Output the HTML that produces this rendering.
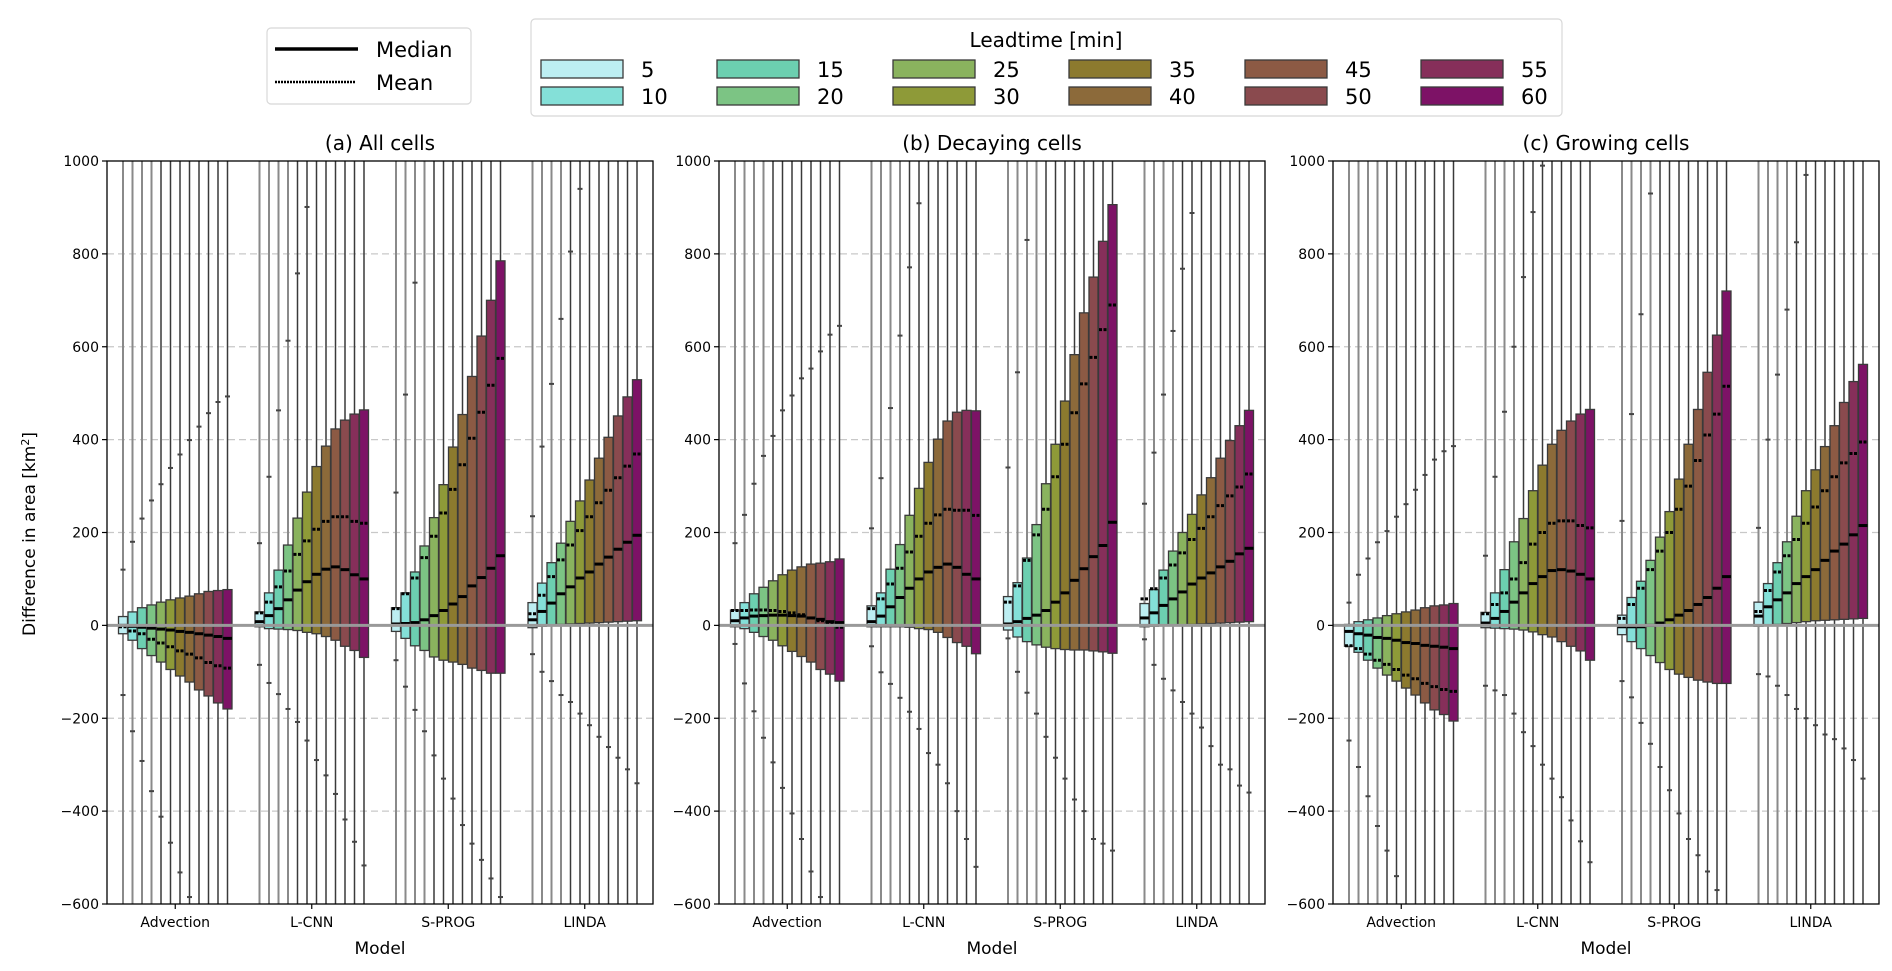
<!DOCTYPE html>
<html><head><meta charset="utf-8"><style>
body{margin:0;background:#fff;}
svg{display:block;font-family:"DejaVu Sans","Liberation Sans",sans-serif;}
</style></head><body>
<svg id="chart" width="1892" height="971" viewBox="0 0 1892 971"></svg>
<script>
// ---------- data ----------
const models = ["Advection","L-CNN","S-PROG","LINDA"];
const leadtimes = [5,10,15,20,25,30,35,40,45,50,55,60];
const leadColors = ["#bdeef2","#84e0d8","#6ccfb0","#7cc484","#8ab35e","#8e9a38","#8c7a2e","#8c6a3a","#8c5a44","#8a4a4e","#862f5a","#7d1266"];
const panelTitles = ["(a) All cells","(b) Decaying cells","(c) Growing cells"];
const yTicks = [1000,800,600,400,200,0,-200,-400,-600];

// panel (a) All cells
const a_q3 = [[19,29,38,44,50,55,59,63,68,73,75,77],[29,70,119,173,231,287,342,386,423,442,455,464],[38,70,115,171,232,303,384,454,536,623,700,785],[49,91,135,177,224,268,313,360,405,451,492,529]];
const a_q1 = [[-18,-32,-50,-65,-79,-95,-109,-122,-139,-152,-167,-180],[-3,-7,-8,-9,-11,-15,-18,-24,-32,-45,-54,-69],[-13,-28,-44,-54,-68,-75,-79,-84,-92,-97,-103,-103],[-5,-2,0,2,3,4,5,6,7,8,9,10]];
const a_med = [[0,-2,-4,-6,-8,-10,-13,-15,-18,-21,-24,-28],[8,21,36,55,76,94,110,121,126,120,109,100],[3,4,6,12,21,32,46,62,85,103,123,150],[12,30,48,68,83,102,115,132,147,164,179,194]];
const a_mean = [[-3,-12,-18,-30,-38,-46,-55,-62,-70,-80,-87,-92],[27,50,83,117,153,182,207,224,234,234,224,220],[36,68,102,146,192,242,293,346,403,459,517,575],[25,65,105,141,173,204,234,264,291,318,343,369]];
const a_hi = [[120,180,230,269,304,339,368,399,428,457,481,493],[177,320,463,613,758,901,1100,1100,1100,1100,1100,1100],[286,497,738,1100,1100,1100,1100,1100,1100,1100,1100,1100],[235,385,520,660,805,940,1100,1100,1100,1100,1100,1100]];
const a_lo = [[-150,-228,-292,-357,-412,-468,-532,-585,-640,-700,-760,-820],[-85,-124,-148,-180,-208,-248,-290,-323,-363,-418,-466,-517],[-75,-132,-182,-228,-280,-330,-373,-430,-470,-505,-545,-585],[-62,-100,-120,-150,-165,-190,-215,-240,-262,-285,-310,-340]];

// panel (b) Decaying cells
const b_q3 = [[33,49,68,82,96,109,119,126,132,134,137,143],[42,70,121,174,237,295,351,401,440,459,463,462],[62,92,145,217,305,390,483,583,673,750,827,906],[47,77,119,160,200,239,281,318,360,398,430,463]];
const b_q1 = [[-3,-7,-15,-24,-32,-44,-56,-67,-79,-95,-105,-120],[-3,-3,-3,-3,-4,-7,-9,-15,-26,-37,-45,-61],[-10,-25,-35,-42,-47,-50,-52,-53,-53,-55,-57,-60],[-3,-2,0,0,1,2,3,4,5,6,7,8]];
const b_med = [[10,16,20,21,22,22,21,20,16,13,8,6],[8,20,40,60,80,100,115,125,132,125,110,100],[3,8,15,22,32,50,70,97,122,148,172,222],[16,27,43,57,72,89,102,113,126,138,154,166]];
const b_mean = [[32,32,33,33,32,30,27,23,16,10,3,-4],[36,57,89,123,158,192,220,238,250,248,248,237],[50,85,140,195,250,320,390,458,520,577,637,690],[57,79,102,130,156,185,209,234,258,279,298,326]];
const b_hi = [[177,238,305,365,408,463,495,532,553,590,626,645],[209,317,468,624,771,909,1100,1100,1100,1100,1100,1100],[340,545,830,1100,1100,1100,1100,1100,1100,1100,1100,1100],[262,372,497,634,768,888,1100,1100,1100,1100,1100,1100]];
const b_lo = [[-40,-125,-185,-242,-295,-350,-405,-460,-530,-585,-640,-700],[-45,-101,-126,-156,-186,-223,-275,-300,-340,-400,-460,-520],[-28,-100,-145,-190,-240,-285,-330,-375,-400,-460,-470,-485],[-30,-85,-115,-140,-165,-190,-220,-260,-300,-310,-345,-360]];

// panel (c) Growing cells
const c_q3 = [[2,8,12,16,21,25,29,33,38,42,44,47],[28,70,120,180,230,290,345,390,420,440,455,465],[22,60,95,140,190,245,315,390,465,545,625,720],[50,90,135,180,235,290,335,385,430,480,525,562]];
const c_q1 = [[-45,-58,-75,-92,-107,-120,-135,-150,-167,-182,-192,-206],[-5,-6,-7,-8,-10,-14,-20,-25,-35,-45,-55,-75],[-20,-35,-50,-65,-80,-95,-105,-112,-118,-122,-125,-125],[-2,0,2,4,6,8,10,11,12,13,14,15]];
const c_med = [[-13,-18,-21,-26,-28,-32,-37,-39,-43,-45,-47,-50],[5,15,30,50,70,90,105,118,120,117,110,100],[-3,-3,-3,0,5,12,22,32,45,60,80,105],[20,40,55,70,90,105,120,140,160,175,195,215]];
const c_mean = [[-44,-50,-62,-75,-84,-95,-107,-115,-125,-132,-138,-142],[25,45,70,100,135,175,200,220,225,225,215,210],[15,45,80,120,160,200,250,300,355,410,455,515],[30,75,115,150,185,220,255,290,320,350,370,395]];
const c_hi = [[49,109,144,179,203,234,261,292,324,357,375,386],[150,320,460,600,750,890,990,1100,1100,1100,1100,1100],[225,455,670,930,1100,1100,1100,1100,1100,1100,1100,1100],[210,400,540,680,825,970,1100,1100,1100,1100,1100,1100]];
const c_lo = [[-248,-305,-368,-432,-485,-540,-620,-680,-740,-800,-860,-920],[-130,-140,-150,-190,-230,-260,-300,-330,-370,-420,-465,-510],[-120,-155,-210,-255,-305,-355,-405,-460,-495,-530,-570,-620],[-105,-110,-130,-150,-180,-200,-215,-235,-245,-265,-290,-330]];

const panelQ3=[a_q3,b_q3,c_q3], panelQ1=[a_q1,b_q1,c_q1], panelMed=[a_med,b_med,c_med], panelMean=[a_mean,b_mean,c_mean], panelHi=[a_hi,b_hi,c_hi], panelLo=[a_lo,b_lo,c_lo];

// ---------- layout ----------
const NS="http://www.w3.org/2000/svg";
const svg=document.getElementById('chart');
const panelLeft=[107,719,1333], panelW=546, yTop=161, yBot=904;
const yMin=-600, yMax=1000;
function yS(v){ return yBot-(v-yMin)/(yMax-yMin)*(yBot-yTop); }
function mk(tag,attrs,parent){ const e=document.createElementNS(NS,tag); for(const k in attrs) e.setAttribute(k,attrs[k]); (parent||svg).appendChild(e); return e; }
const step=9.5, bw=9;
function groupCenter(p,g){ return panelLeft[p]+panelW/8+g*panelW/4; }
function xS(p,g,i){ return groupCenter(p,g)+(i-5.5)*step; }

for(let p=0;p<3;p++){
  const L=panelLeft[p], R=L+panelW;
  const pg=mk('g',{});
  
  
  yTicks.forEach(t=>{
    if(t===1000||t===-600||t===0) return;
    const gl=mk('line',{x1:L,x2:R,y1:yS(t),y2:yS(t),stroke:'#c8c8c8','stroke-width':1.2,'stroke-dasharray':'7,4'},pg);
    
    
  });
  for(let g=0;g<4;g++){
    for(let i=0;i<12;i++){
      const x=xS(p,g,i);
      const bg=mk('g',{},pg);
      
      
      const gray=i<4;
      mk('line',{x1:x,x2:x,y1:yTop,y2:yBot,stroke:gray?'#8a8a8a':'#3a3a3a','stroke-width':gray?2:1.5},bg);
      const hi=panelHi[p][g][i], lo=panelLo[p][g][i];
      if(hi<=1000) mk('line',{x1:x-2.5,x2:x+2.5,y1:yS(hi),y2:yS(hi),stroke:'#444','stroke-width':2},bg);
      if(lo>=-600) mk('line',{x1:x-2.5,x2:x+2.5,y1:yS(lo),y2:yS(lo),stroke:'#444','stroke-width':2},bg);
      const q3=panelQ3[p][g][i], q1=panelQ1[p][g][i];
      mk('rect',{x:x-bw/2,y:yS(q3),width:bw,height:Math.max(1,yS(q1)-yS(q3)),fill:leadColors[i],stroke:'#3a3a3a','stroke-width':1.3},bg);
      const m=panelMed[p][g][i];
      mk('line',{x1:x-bw/2,x2:x+bw/2,y1:yS(m),y2:yS(m),stroke:'#000','stroke-width':3},bg);
      const mn=panelMean[p][g][i];
      mk('line',{x1:x-bw/2+0.5,x2:x+bw/2,y1:yS(mn),y2:yS(mn),stroke:'#000','stroke-width':3,'stroke-dasharray':'3,1.5'},bg);
    }
  }
  const zl=mk('line',{x1:L,x2:R,y1:yS(0),y2:yS(0),stroke:'#999','stroke-width':3},pg);
  
  
  const fr=mk('rect',{x:L,y:yTop,width:panelW,height:yBot-yTop,fill:'none',stroke:'#000','stroke-width':1.3},pg);
  
  
  yTicks.forEach(t=>{
    mk('line',{x1:L-5,x2:L,y1:yS(t),y2:yS(t),stroke:'#000','stroke-width':1.2},pg);
    const tx=mk('text',{x:L-8,y:yS(t)+5,'text-anchor':'end','font-size':14,fill:'#000'},pg);
    tx.textContent=(t<0?'\u2212'+(-t):''+t);
    
    
  });
  for(let g=0;g<4;g++){
    const cx=groupCenter(p,g);
    mk('line',{x1:cx,x2:cx,y1:yBot,y2:yBot+5,stroke:'#000','stroke-width':1.2},pg);
    const tx=mk('text',{x:cx,y:yBot+23,'text-anchor':'middle','font-size':14,fill:'#000'},pg);
    tx.textContent=models[g];
    
    
  }
  const xl=mk('text',{x:L+panelW/2,y:yBot+50,'text-anchor':'middle','font-size':17,fill:'#000'},pg);
  xl.textContent='Model';
  
  
  const tt=mk('text',{x:L+panelW/2,y:150,'text-anchor':'middle','font-size':20,fill:'#000'},pg);
  tt.textContent=panelTitles[p];
  
  
}
const yt=mk('text',{x:0,y:0,transform:'translate(35,534) rotate(-90)','text-anchor':'middle','font-size':17,fill:'#000'});
yt.innerHTML='Difference in area [km<tspan baseline-shift="super" font-size="11">2</tspan>]';



// legend 1: median / mean
const lg1=mk('g',{});


mk('rect',{x:267,y:28,width:204,height:76,rx:4,fill:'#fff',stroke:'#d8d8d8','stroke-width':1.2},lg1);
mk('line',{x1:275,x2:358,y1:49,y2:49,stroke:'#000','stroke-width':3.5},lg1);
mk('line',{x1:275,x2:356,y1:82,y2:82,stroke:'#000','stroke-width':2.5,'stroke-dasharray':'2,1'},lg1);
let t1=mk('text',{x:376,y:57,'font-size':21,fill:'#000'},lg1); t1.textContent='Median';
 
let t2=mk('text',{x:376,y:90,'font-size':21,fill:'#000'},lg1); t2.textContent='Mean';
 

// legend 2: leadtimes
const lg2=mk('g',{});


mk('rect',{x:531,y:19,width:1031,height:97,rx:4,fill:'#fff',stroke:'#d8d8d8','stroke-width':1.2},lg2);
const lt=mk('text',{x:1046,y:47,'text-anchor':'middle','font-size':20,fill:'#000'},lg2); lt.textContent='Leadtime [min]';
 
const colX=[541,717,893,1069,1245,1421];
for(let i=0;i<12;i++){
  const c=Math.floor(i/2), r=i%2;
  const eg=mk('g',{},lg2);
  
  
  mk('rect',{x:colX[c],y:60+r*27,width:82,height:18,fill:leadColors[i],stroke:'#3a3a3a','stroke-width':1.3},eg);
  const tx=mk('text',{x:colX[c]+100,y:77+r*27,'font-size':21,fill:'#000'},eg);
  tx.textContent=leadtimes[i];
}
</script>
</body></html>
